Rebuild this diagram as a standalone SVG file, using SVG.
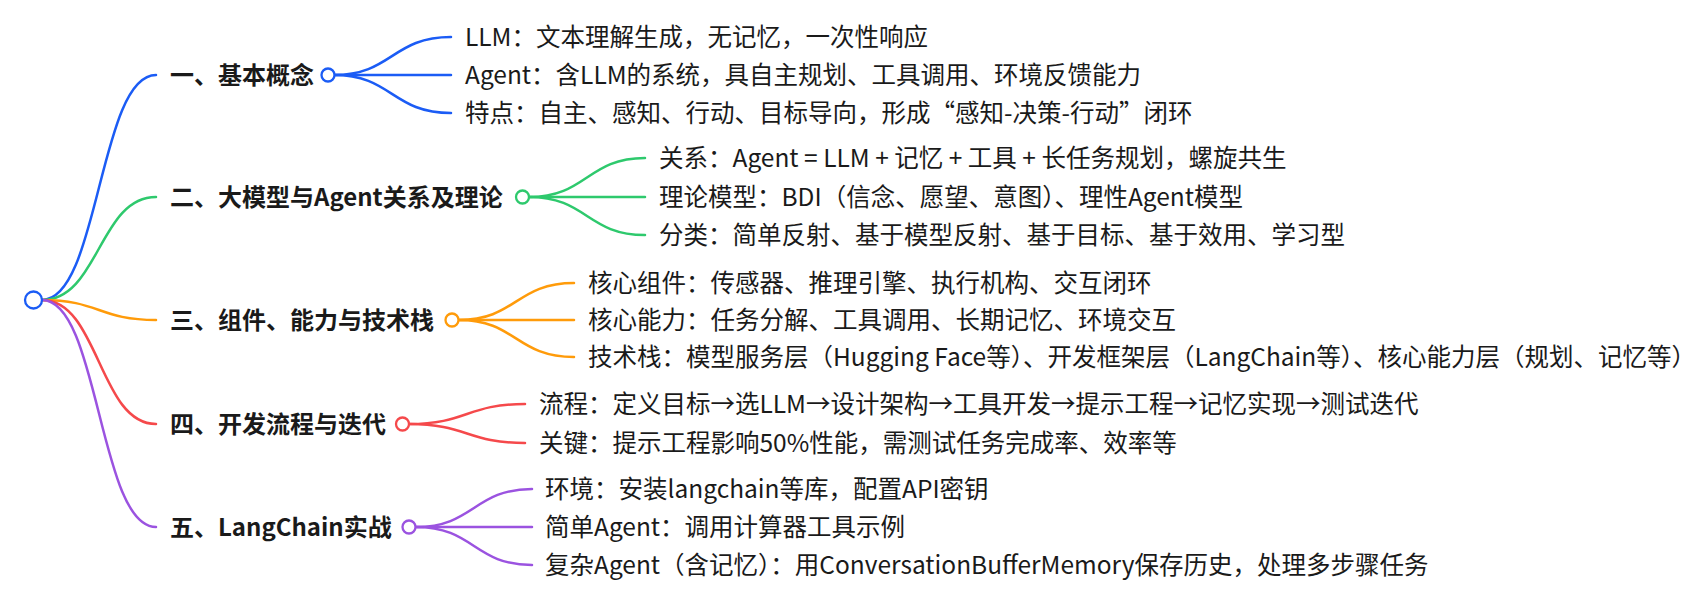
<svg xmlns="http://www.w3.org/2000/svg" width="1705" height="609" viewBox="0 0 1705 609">
<style>
  .t { font-family: "Noto Sans CJK SC", "Noto Sans", sans-serif; font-size: 24.5px; fill: #1a1a1a; }
  .b { font-weight: 700; font-size: 24px; }
  .ln { fill: none; stroke-width: 2.5; stroke-linecap: round; }
  .nd { fill: #ffffff; stroke-width: 2.3; }
  .blue { stroke: #1b5cf5; }
  .green { stroke: #2ec96d; }
  .orange { stroke: #ff9b0a; }
  .red { stroke: #f5494b; }
  .purple { stroke: #9b53e0; }
</style>
<rect width="1705" height="609" fill="#ffffff"/>
<g id="connectors">
  <path class="ln blue" d="M42 300 C99 300 99 75 156 75"/>
  <path class="ln green" d="M42 300 C99 300 99 197 156 197"/>
  <path class="ln orange" d="M42 300 C99 300 99 320 156 320"/>
  <path class="ln red" d="M42 300 C99 300 99 424 156 424"/>
  <path class="ln purple" d="M42 300 C99 300 99 527 156 527"/>

  <path class="ln blue" d="M334 75 C392 75 392 37 451 37"/>
  <path class="ln blue" d="M334 75 L451 75"/>
  <path class="ln blue" d="M334 75 C392 75 392 113 451 113"/>

  <path class="ln green" d="M529 197 C587 197 587 158 645 158"/>
  <path class="ln green" d="M529 197 L645 197"/>
  <path class="ln green" d="M529 197 C587 197 587 235 645 235"/>

  <path class="ln orange" d="M459 320 C516 320 516 283 574 283"/>
  <path class="ln orange" d="M459 320 L574 320"/>
  <path class="ln orange" d="M459 320 C516 320 516 357 574 357"/>

  <path class="ln red" d="M409 424 C467 424 467 404 525 404"/>
  <path class="ln red" d="M409 424 C467 424 467 443 525 443"/>

  <path class="ln purple" d="M416 527 C474 527 474 489 532 489"/>
  <path class="ln purple" d="M416 527 L532 527"/>
  <path class="ln purple" d="M416 527 C474 527 474 565 532 565"/>
</g>
<g id="root">
  <circle class="nd blue" cx="33.5" cy="300" r="8.5" stroke-width="2.6"/>
</g>
<g id="n1">
  <text class="t b" x="170" y="84">一、基本概念</text>
  <circle class="nd blue" cx="328" cy="75" r="6.5"/>
</g>
<g id="n1-1"><text class="t" x="465" y="46">LLM：文本理解生成，无记忆，一次性响应</text></g>
<g id="n1-2"><text class="t" x="465" y="84">Agent：含LLM的系统，具自主规划、工具调用、环境反馈能力</text></g>
<g id="n1-3"><text class="t" x="465" y="122">特点：自主、感知、行动、目标导向，形成“感知-决策-行动”闭环</text></g>
<g id="n2">
  <text class="t b" x="170" y="206">二、大模型与Agent关系及理论</text>
  <circle class="nd green" cx="522.5" cy="197" r="6.5"/>
</g>
<g id="n2-1"><text class="t" x="659" y="167">关系：Agent = LLM + 记忆 + 工具 + 长任务规划，螺旋共生</text></g>
<g id="n2-2"><text class="t" x="659" y="206">理论模型：BDI（信念、愿望、意图）、理性Agent模型</text></g>
<g id="n2-3"><text class="t" x="659" y="244">分类：简单反射、基于模型反射、基于目标、基于效用、学习型</text></g>
<g id="n3">
  <text class="t b" x="170" y="329">三、组件、能力与技术栈</text>
  <circle class="nd orange" cx="452" cy="320" r="6.5"/>
</g>
<g id="n3-1"><text class="t" x="588" y="292">核心组件：传感器、推理引擎、执行机构、交互闭环</text></g>
<g id="n3-2"><text class="t" x="588" y="329">核心能力：任务分解、工具调用、长期记忆、环境交互</text></g>
<g id="n3-3"><text class="t" x="588" y="366">技术栈：模型服务层（Hugging Face等）、开发框架层（LangChain等）、核心能力层（规划、记忆等）</text></g>
<g id="n4">
  <text class="t b" x="170" y="433">四、开发流程与迭代</text>
  <circle class="nd red" cx="402.5" cy="424" r="6.5"/>
</g>
<g id="n4-1"><text class="t" x="539" y="413">流程：定义目标→选LLM→设计架构→工具开发→提示工程→记忆实现→测试迭代</text></g>
<g id="n4-2"><text class="t" x="539" y="452">关键：提示工程影响50%性能，需测试任务完成率、效率等</text></g>
<g id="n5">
  <text class="t b" x="170" y="536">五、LangChain实战</text>
  <circle class="nd purple" cx="409" cy="527" r="6.5"/>
</g>
<g id="n5-1"><text class="t" x="545" y="498">环境：安装langchain等库，配置API密钥</text></g>
<g id="n5-2"><text class="t" x="545" y="536">简单Agent：调用计算器工具示例</text></g>
<g id="n5-3"><text class="t" x="545" y="574">复杂Agent（含记忆）：用ConversationBufferMemory保存历史，处理多步骤任务</text></g>
</svg>
